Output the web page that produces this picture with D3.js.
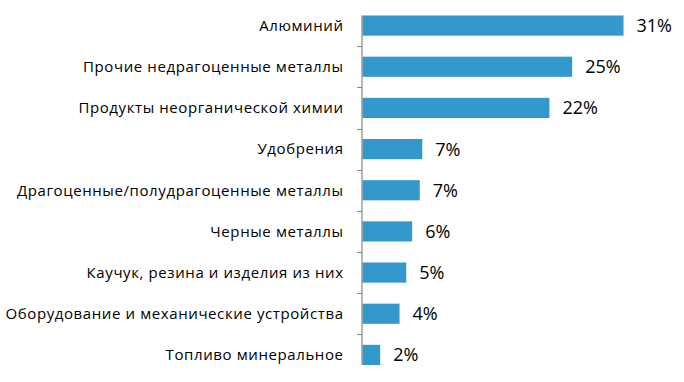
<!DOCTYPE html>
<html>
<head>
<meta charset="utf-8">
<script src="https://cdn.jsdelivr.net/npm/d3@7"></script>
<style>
  body { margin: 0; background: #fff; }
  #main text { font-family: "Open Sans", sans-serif; fill: #000; }
</style>
</head>
<body>
<div id="main"></div>
<script>
'use strict'

// chart data
const categories = [
  "Алюминий",
  "Прочие недрагоценные металлы",
  "Продукты неорганической химии",
  "Удобрения",
  "Драгоценные/полудрагоценные металлы",
  "Черные металлы",
  "Каучук, резина и изделия из них",
  "Оборудование и механические устройства",
  "Топливо минеральное"
];
const values = [31.0, 24.9, 22.2, 7.1, 6.8, 5.9, 5.2, 4.4, 2.1];
const valueLabels = ["31%", "25%", "22%", "7%", "7%", "6%", "5%", "4%", "2%"];

document.addEventListener('DOMContentLoaded', function(){
  drawBarChart();
});

function drawBarChart(){
  let svgWidth = 684;
  let svgHeight = 382;
  let axisX = 362;

  let svg = d3.select('#main')
    .append('svg')
    .attr('width', svgWidth)
    .attr('height', svgHeight);

  let data = categories.map((c, i) => ({name: c, value: values[i], label: valueLabels[i]}));

  let yScale = d3.scaleBand()
    .domain(categories)
    .range([5, 375.5])
    .paddingInner(0.51)
    .paddingOuter(0.255);

  // 8.42 px per percent
  let xScale = d3.scaleLinear()
    .domain([0, 31])
    .range([axisX + 0.5, axisX + 0.5 + 261]);

  //Draw the bars
  svg.selectAll("rect.bar")
    .data(data)
    .enter()
    .append("rect")
    .attr("class", "bar")
    .attr("x", xScale(0))
    .attr("y", d => yScale(d.name))
    .attr("width", d => xScale(d.value) - xScale(0))
    .attr("height", yScale.bandwidth())
    .attr("fill", "#3399cc");

  //Draw the y axis (line spans the bars, ticks between categories)
  let first = yScale(categories[0]);
  let last = yScale(categories[categories.length - 1]) + yScale.bandwidth();
  let axis = svg.append("g").attr("id", "y-axis");
  axis.append("line")
    .attr("x1", axisX).attr("x2", axisX)
    .attr("y1", first).attr("y2", last)
    .attr("stroke", "#868686")
    .attr("stroke-width", 1.2);

  let tickYs = categories.slice(1).map(c => yScale(c) - yScale.step() * yScale.paddingInner() / 2);
  axis.selectAll("line.tick")
    .data(tickYs)
    .enter()
    .append("line")
    .attr("class", "tick")
    .attr("x1", axisX - 5).attr("x2", axisX)
    .attr("y1", d => Math.round(d) + 0.5).attr("y2", d => Math.round(d) + 0.5)
    .attr("stroke", "#868686")
    .attr("stroke-width", 1);

  //Category labels
  axis.selectAll("text")
    .data(data)
    .enter()
    .append("text")
    .text(d => d.name)
    .attr("x", 343.6)
    .attr("y", d => yScale(d.name) + yScale.bandwidth() / 2)
    .attr("dy", "0.35em")
    .attr("text-anchor", "end")
    .style("font-size", "15px")
    .style("letter-spacing", "0.6px");

  //Value labels
  svg.selectAll("text.value")
    .data(data)
    .enter()
    .append("text")
    .attr("class", "value")
    .text(d => d.label)
    .attr("x", d => xScale(d.value) + 13)
    .attr("y", d => yScale(d.name) + yScale.bandwidth() / 2)
    .attr("dy", "0.36em")
    .style("font-size", "18px");
}
</script>
</body>
</html>
